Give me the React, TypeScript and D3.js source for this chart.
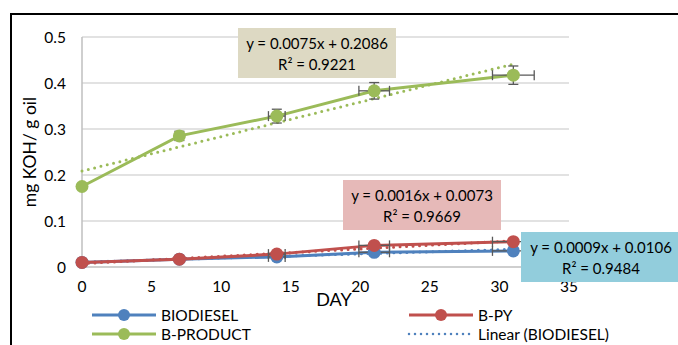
import * as d3 from "d3";

const days = [0, 7, 14, 21, 31];
const biodiesel = [0.01, 0.017, 0.022, 0.032, 0.035];
const bpy = [0.01, 0.017, 0.028, 0.047, 0.055];
const bproduct = [0.175, 0.285, 0.328, 0.383, 0.417];
const yErr = [0, 0.01, 0.015, 0.018, 0.02];
const xErr = [0, 0, 0.6, 1.1, 1.5];
const xTicks = [0, 5, 10, 15, 20, 25, 30, 35];
const yTicks = [0, 0.1, 0.2, 0.3, 0.4, 0.5];

const fits = [
  { name: "BIODIESEL", slope: 0.0009, icept: 0.0106, r2: "0.9484", color: "#4F81BD", box: "#92CDDC" },
  { name: "B-PY", slope: 0.0016, icept: 0.0073, r2: "0.9669", color: "#C0504D", box: "#E6B9B8" },
  { name: "B-PRODUCT", slope: 0.0075, icept: 0.2086, r2: "0.9221", color: "#9BBB59", box: "#DDD9C3" },
];

const width = 678;
const height = 345;
const font = "Lato, 'Liberation Sans', sans-serif";

export default function App() {
  const x = d3.scaleLinear().domain([0, 35]).range([82, 569]);
  const y = d3.scaleLinear().domain([0, 0.5]).range([267, 37]);
  const line = d3
    .line<[number, number]>()
    .x((d) => x(d[0]))
    .y((d) => y(d[1]));

  const series = [
    { vals: biodiesel, color: "#4F81BD", fit: fits[0] },
    { vals: bpy, color: "#C0504D", fit: fits[1] },
    { vals: bproduct, color: "#9BBB59", fit: fits[2] },
  ];

  // label boxes: [left, top, w, h]
  const boxes = [
    [521, 232, 160, 50],
    [343, 180, 158, 50],
    [238, 28, 158, 50],
  ];

  return (
    <svg
      width={width}
      height={height}
      style={{ position: "absolute", left: 0, top: 0, background: "#fff" }}
      fontFamily={font}
    >
      <rect x={11} y={14} width={690} height={360} fill="#fff" stroke="#000" strokeWidth={2} />

      {yTicks.map((t) => (
        <g key={t}>
          {t > 0 && (
            <line x1={82} x2={569} y1={y(t)} y2={y(t)} stroke="#D9D9D9" strokeWidth={1.3} />
          )}
          <text x={66} y={y(t) + 5.5} textAnchor="end" fontSize={15.5} fill="#000">
            {t}
          </text>
        </g>
      ))}
      <line x1={82} x2={82} y1={37} y2={267} stroke="#BFBFBF" strokeWidth={1.5} />
      <line x1={82} x2={569} y1={267} y2={267} stroke="#BFBFBF" strokeWidth={1.5} />
      {xTicks.map((t) => (
        <text key={t} x={x(t)} y={292} textAnchor="middle" fontSize={15.5} fill="#000">
          {t}
        </text>
      ))}
      <text x={334} y={306} textAnchor="middle" fontSize={18}>
        DAY
      </text>
      <text
        transform={`translate(36, 152) rotate(-90)`}
        textAnchor="middle"
        fontSize={17.5}
      >
        mg KOH/ g oil
      </text>

      {series.map((s) => (
        <g key={s.fit.name}>
          <path
            d={line([
              [0, s.fit.icept],
              [31, s.fit.icept + s.fit.slope * 31],
            ])!}
            fill="none"
            stroke={s.color}
            strokeWidth={3}
            strokeDasharray="0 6.5"
            strokeLinecap="round"
          />
          <path
            d={line(days.map((d, i) => [d, s.vals[i]] as [number, number]))!}
            fill="none"
            stroke={s.color}
            strokeWidth={3}
          />
          {days.map((d, i) => (
            <g key={d} stroke="#595959" strokeWidth={1.3}>
              {xErr[i] > 0 && (
                <>
                  <line x1={x(d - xErr[i])} x2={x(d + xErr[i])} y1={y(s.vals[i])} y2={y(s.vals[i])} />
                  <line x1={x(d - xErr[i])} x2={x(d - xErr[i])} y1={y(s.vals[i]) - 5} y2={y(s.vals[i]) + 5} />
                  <line x1={x(d + xErr[i])} x2={x(d + xErr[i])} y1={y(s.vals[i]) - 5} y2={y(s.vals[i]) + 5} />
                </>
              )}
              {s.fit.name === "B-PRODUCT" && yErr[i] > 0 && (
                <>
                  <line x1={x(d)} x2={x(d)} y1={y(s.vals[i] - yErr[i])} y2={y(s.vals[i] + yErr[i])} />
                  <line x1={x(d) - 5} x2={x(d) + 5} y1={y(s.vals[i] - yErr[i])} y2={y(s.vals[i] - yErr[i])} />
                  <line x1={x(d) - 5} x2={x(d) + 5} y1={y(s.vals[i] + yErr[i])} y2={y(s.vals[i] + yErr[i])} />
                </>
              )}
            </g>
          ))}
          {days.map((d, i) => (
            <circle key={d} cx={x(d)} cy={y(s.vals[i])} r={6.5} fill={s.color} />
          ))}
        </g>
      ))}

      {fits.map((f, i) => {
        const [bx, by, bw, bh] = boxes[i];
        return (
          <g key={f.name}>
            <rect x={bx} y={by} width={bw} height={bh} fill={f.box} />
            <text x={bx + bw / 2} y={by + 21} textAnchor="middle" fontSize={15}>
              {`y = ${f.slope.toFixed(4)}x + ${f.icept.toFixed(4)}`}
            </text>
            <text x={bx + bw / 2} y={by + 42} textAnchor="middle" fontSize={15}>
              {`R² = ${f.r2}`}
            </text>
          </g>
        );
      })}

      {[
        { label: "BIODIESEL", color: "#4F81BD", lx: 92, ly: 315, dotted: false },
        { label: "B-PY", color: "#C0504D", lx: 409, ly: 315, dotted: false },
        { label: "B-PRODUCT", color: "#9BBB59", lx: 92, ly: 334, dotted: false },
        { label: "Linear (BIODIESEL)", color: "#4F81BD", lx: 409, ly: 334, dotted: true },
      ].map((l) => (
        <g key={l.label}>
          <line
            x1={l.lx}
            x2={l.lx + 64}
            y1={l.ly}
            y2={l.ly}
            stroke={l.color}
            strokeWidth={l.dotted ? 2.5 : 3}
            strokeDasharray={l.dotted ? "0 6" : undefined}
            strokeLinecap={l.dotted ? "round" : "butt"}
          />
          {!l.dotted && <circle cx={l.lx + 32} cy={l.ly} r={6} fill={l.color} />}
          <text x={l.lx + 69} y={l.ly + 5.5} fontSize={15.5}>
            {l.label}
          </text>
        </g>
      ))}
    </svg>
  );
}
